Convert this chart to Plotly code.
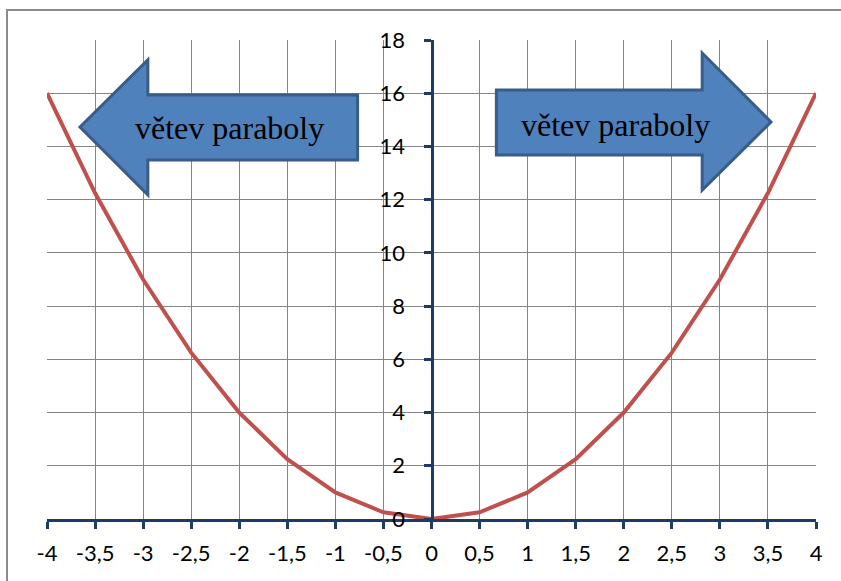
import plotly.graph_objects as go

# parabola y = x^2 sampled every 0.5
x_vals = [-4, -3.5, -3, -2.5, -2, -1.5, -1, -0.5, 0, 0.5, 1, 1.5, 2, 2.5, 3, 3.5, 4]
y_vals = [16, 12.25, 9, 6.25, 4, 2.25, 1, 0.25, 0, 0.25, 1, 2.25, 4, 6.25, 9, 12.25, 16]

x_tick_vals = [-4, -3.5, -3, -2.5, -2, -1.5, -1, -0.5, 0, 0.5, 1, 1.5, 2, 2.5, 3, 3.5, 4]
x_tick_text = ["-4", "-3,5", "-3", "-2,5", "-2", "-1,5", "-1", "-0,5", "0",
               "0,5", "1", "1,5", "2", "2,5", "3", "3,5", "4"]
y_tick_vals = [0, 2, 4, 6, 8, 10, 12, 14, 16, 18]
y_tick_text = ["0", "2", "4", "6", "8", "10", "12", "14", "16", "18"]

branch_label = "větev paraboly"

AXIS_BLUE = "#1F3B63"
GRID = "#858585"
TICK_FONT = dict(family="Lato", size=22, color="#000000")

fig = go.Figure()
fig.add_trace(go.Scatter(
    x=x_vals, y=y_vals, mode="lines",
    line=dict(color="#C0504D", width=4),
    hoverinfo="skip", showlegend=False,
))


def left_arrow(tip_x, tip_y, head_x, head_top, head_bot, shaft_top, shaft_bot, tail_x):
    return (f"M {tip_x},{tip_y} L {head_x},{head_top} L {head_x},{shaft_top} "
            f"L {tail_x},{shaft_top} L {tail_x},{shaft_bot} L {head_x},{shaft_bot} "
            f"L {head_x},{head_bot} Z")


def right_arrow(tail_x, shaft_top, shaft_bot, head_x, head_top, head_bot, tip_x, tip_y):
    return (f"M {tail_x},{shaft_top} L {head_x},{shaft_top} L {head_x},{head_top} "
            f"L {tip_x},{tip_y} L {head_x},{head_bot} L {head_x},{shaft_bot} "
            f"L {tail_x},{shaft_bot} Z")


arrow_style = dict(type="path", xref="x", yref="y",
                   fillcolor="#4F81BD", line=dict(color="#385D8A", width=3), layer="above")

fig.add_shape(path=left_arrow(-3.657, 14.73, -2.951, 17.25, 12.18, 15.93, 13.49, -0.769),
              **arrow_style)
fig.add_shape(path=right_arrow(0.675, 16.12, 13.68, 2.816, 17.51, 12.36, 3.532, 14.92),
              **arrow_style)

# outer chart frame
fig.add_shape(type="rect", xref="paper", yref="paper",
              x0=-0.052, x1=1.2, y0=-0.3, y1=1.0626,
              line=dict(color="#8C8C8C", width=2), fillcolor="rgba(0,0,0,0)", layer="below")

label_font = dict(family="Liberation Serif", size=32, color="#000000")
fig.add_annotation(x=-2.10, y=14.69, xref="x", yref="y", text=branch_label,
                   showarrow=False, font=label_font)
fig.add_annotation(x=1.91, y=14.81, xref="x", yref="y", text=branch_label,
                   showarrow=False, font=label_font)

fig.update_xaxes(
    range=[-4, 4], tickvals=x_tick_vals, ticktext=x_tick_text,
    showgrid=True, gridcolor=GRID, gridwidth=1,
    zeroline=False,
    showline=True, linecolor=AXIS_BLUE, linewidth=3,
    ticks="outside", ticklen=7, tickwidth=3, tickcolor=AXIS_BLUE,
    tickfont=TICK_FONT, ticklabelstandoff=6,
    fixedrange=True,
)
fig.update_yaxes(
    range=[0, 18], tickvals=y_tick_vals, ticktext=y_tick_text,
    showgrid=True, gridcolor=GRID, gridwidth=1,
    zeroline=False,
    anchor="free", position=0.5, side="left",
    showline=True, linecolor=AXIS_BLUE, linewidth=3,
    ticks="outside", ticklen=7, tickwidth=3, tickcolor=AXIS_BLUE,
    tickfont=TICK_FONT, ticklabelstandoff=14,
    fixedrange=True,
)

fig.update_layout(
    width=841, height=581,
    margin=dict(l=47, r=25, t=40, b=62),
    plot_bgcolor="#FFFFFF", paper_bgcolor="#FFFFFF",
    showlegend=False,
)

fig.write_html("out.html", config={"displayModeBar": False})
